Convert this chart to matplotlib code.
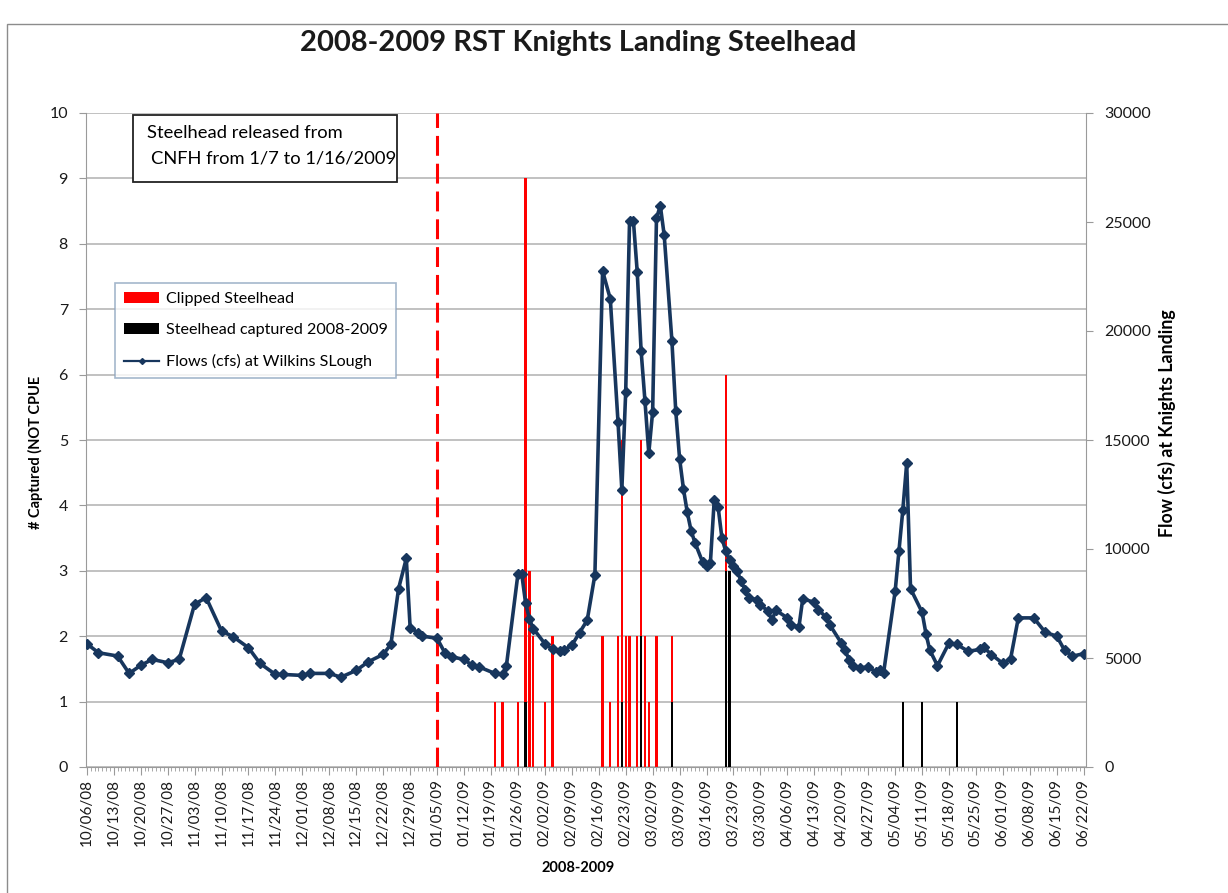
import numpy as np
import pandas as pd
import matplotlib
matplotlib.use("Agg")
import matplotlib.pyplot as plt
from matplotlib.patches import Rectangle, Patch
from matplotlib.lines import Line2D

plt.rcParams['font.family'] = ['Lato', 'DejaVu Sans']

# flows (cfs) at Wilkins Slough
flow_dates = ["10/06/08", "10/09/08", "10/14/08", "10/17/08", "10/20/08", "10/23/08", "10/27/08",
              "10/30/08", "11/03/08", "11/06/08", "11/10/08", "11/13/08", "11/17/08", "11/20/08",
              "11/24/08", "11/26/08", "12/01/08", "12/03/08", "12/08/08", "12/11/08", "12/15/08",
              "12/18/08", "12/22/08", "12/24/08", "12/26/08", "12/28/08", "12/29/08", "12/31/08",
              "01/01/09", "01/05/09", "01/07/09", "01/09/09", "01/12/09", "01/14/09", "01/16/09",
              "01/20/09", "01/22/09", "01/23/09", "01/26/09", "01/27/09", "01/28/09", "01/29/09",
              "01/30/09", "02/02/09", "02/04/09", "02/06/09", "02/07/09", "02/09/09", "02/11/09",
              "02/13/09", "02/15/09", "02/17/09", "02/19/09", "02/21/09", "02/22/09", "02/23/09",
              "02/24/09", "02/25/09", "02/26/09", "02/27/09", "02/28/09", "03/01/09", "03/02/09",
              "03/03/09", "03/04/09", "03/05/09", "03/07/09", "03/08/09", "03/09/09", "03/10/09",
              "03/11/09", "03/12/09", "03/13/09", "03/15/09", "03/16/09", "03/17/09", "03/18/09",
              "03/19/09", "03/20/09", "03/21/09", "03/22/09", "03/23/09", "03/24/09", "03/25/09",
              "03/26/09", "03/27/09", "03/29/09", "03/30/09", "04/01/09", "04/02/09", "04/03/09",
              "04/06/09", "04/07/09", "04/09/09", "04/10/09", "04/13/09", "04/14/09", "04/16/09",
              "04/17/09", "04/20/09", "04/21/09", "04/22/09", "04/23/09", "04/25/09", "04/27/09",
              "04/29/09", "04/30/09", "05/01/09", "05/04/09", "05/05/09", "05/06/09", "05/07/09",
              "05/08/09", "05/11/09", "05/12/09", "05/13/09", "05/15/09", "05/18/09", "05/20/09",
              "05/23/09", "05/26/09", "05/27/09", "05/29/09", "06/01/09", "06/03/09", "06/05/09",
              "06/09/09", "06/12/09", "06/15/09", "06/17/09", "06/19/09", "06/22/09"]
flow_cfs = [5657, 5243, 5090, 4293, 4660, 4936, 4783,
            4936, 7466, 7771, 6240, 5979, 5473, 4752,
            4246, 4246, 4200, 4293, 4293, 4120, 4430,
            4814, 5166, 5626, 8186, 9566, 6392, 6162,
            6009, 5902, 5243, 5044, 4936, 4676, 4584,
            4293, 4246, 4630, 8845, 8845, 7511, 6776,
            6346, 5657, 5397, 5320, 5366, 5580, 6162,
            6730, 8820, 22750, 21470, 15840, 12720, 17200,
            25050, 25050, 22700, 19100, 16800, 14400, 16300,
            25190, 25740, 24400, 19560, 16340, 14150, 12760,
            11680, 10830, 10290, 9390, 9200, 9360, 12250,
            11940, 10500, 9890, 9510, 9230, 8970, 8510,
            8130, 7750, 7680, 7450, 7140, 6730, 7190,
            6840, 6530, 6420, 7720, 7550, 7220, 6880,
            6530, 5690, 5360, 4930, 4650, 4550, 4590,
            4360, 4440, 4320, 8060, 9920, 11800, 13930,
            8180, 7100, 6120, 5360, 4650, 5690, 5620,
            5310, 5390, 5490, 5160, 4750, 4970, 6840,
            6840, 6180, 6000, 5360, 5080, 5200]

# clipped steelhead counts
clipped_dates = ["01/20/09", "01/22/09", "01/26/09", "01/28/09", "01/29/09", "01/30/09", "02/02/09",
                 "02/04/09", "02/17/09", "02/19/09", "02/21/09", "02/22/09", "02/23/09", "02/24/09",
                 "02/26/09", "02/27/09", "02/28/09", "03/01/09", "03/03/09", "03/07/09", "03/21/09"]
clipped_n = [1, 1, 1, 9, 3, 2, 1,
             2, 2, 1, 2, 5, 2, 2,
             2, 5, 2, 1, 2, 2, 6]

# all steelhead captured 2008-2009
captured_dates = ["01/28/09", "02/22/09", "02/27/09", "03/07/09", "03/21/09", "03/22/09",
                  "05/06/09", "05/11/09", "05/20/09"]
captured_n = [1, 1, 2, 1, 3, 3, 1, 1, 1]

release_line = "01/05/09"
first_day = "10/06/08"
last_day = "06/22/09"

W, H = 1228, 893


def fx(px):
    return px / W


def fy(py):
    return 1 - py / H


to_dt = lambda s: pd.to_datetime(s, format="%m/%d/%y")

fig = plt.figure(figsize=(W / 100, H / 100), dpi=100)
ax = fig.add_axes([fx(86), fy(767), (1086 - 86) / W, (767 - 113) / H])
ax2 = ax.twinx()

navy = "#17365d"
grey = "#9a9a9a"

ax.bar(to_dt(clipped_dates), clipped_n, width=0.6, color="#ff0000", zorder=2)
ax.bar(to_dt(captured_dates), captured_n, width=0.6, color="black", zorder=3)
ax.plot([to_dt(release_line)] * 2, [0, 10], color="#ff0000", lw=2.2,
        dashes=(6.5, 2.6), zorder=4)

ax2.plot(to_dt(flow_dates), flow_cfs, color=navy, lw=2.6, marker="D", ms=5.2,
         mfc=navy, mec=navy)

t0, t1 = to_dt(first_day), to_dt(last_day)
ax.set_xlim(t0 - pd.Timedelta(hours=5), t1 + pd.Timedelta(hours=14))
ax.set_ylim(0, 10)
ax2.set_ylim(0, 30000)

weeks = pd.date_range(t0, t1, freq="7D")
ax.set_xticks(weeks)
ax.set_xticklabels([d.strftime("%m/%d/%y") for d in weeks], rotation=90)
ax.set_xticks(pd.date_range(t0, t1, freq="D"), minor=True)
ax.set_yticks(range(0, 11))
ax2.set_yticks(range(0, 30001, 5000))

ax.set_axisbelow(True)
ax.yaxis.grid(True, color="#b0b0b0", lw=1.1)

for a in (ax, ax2):
    for s in a.spines.values():
        s.set_color(grey)
    a.spines["top"].set_visible(False)
ax.spines["right"].set_visible(False)
ax2.spines["left"].set_visible(False)
ax2.spines["bottom"].set_visible(False)

ax.tick_params(axis="x", which="major", length=6, color=grey, labelsize=11,
               labelcolor="#1a1a1a", pad=3)
ax.tick_params(axis="x", which="minor", length=3, color=grey)
ax.tick_params(axis="y", length=5, color=grey, labelsize=11.5, labelcolor="#1a1a1a", pad=8)
ax2.tick_params(axis="y", length=5, color=grey, labelsize=11.5, labelcolor="#1a1a1a", pad=8)

fig.text(fx(578), fy(43), "2008-2009 RST Knights Landing Steelhead", ha="center", va="center",
         fontsize=21, fontweight="bold", color="#1a1a1a")
fig.text(fx(35), fy(452), "# Captured (NOT CPUE", rotation=90, ha="center", va="center",
         fontsize=10.5, fontweight="bold")
fig.text(fx(1167), fy(423), "Flow (cfs) at Knights Landing", rotation=90, ha="center",
         va="center", fontsize=12.8, fontweight="bold")
fig.text(fx(578), fy(868), "2008-2009", ha="center", va="center", fontsize=10.5,
         fontweight="bold")

# note box
fig.patches.append(Rectangle((fx(133), fy(182)), (397 - 133) / W, (182 - 115) / H,
                             transform=fig.transFigure, facecolor="white",
                             edgecolor="#222222", lw=1.3, zorder=5))
fig.text(fx(147), fy(133), "Steelhead released from", ha="left", va="center",
         fontsize=13.2, zorder=6)
fig.text(fx(151), fy(158), "CNFH from 1/7 to 1/16/2009", ha="left", va="center",
         fontsize=13.2, zorder=6)

handles = [Patch(facecolor="#ff0000", edgecolor="none"),
           Patch(facecolor="black", edgecolor="none"),
           Line2D([], [], color=navy, lw=1.6, marker="D", ms=3)]
labels = ["Clipped Steelhead", "Steelhead captured 2008-2009", "Flows (cfs) at Wilkins SLough"]
leg = ax2.legend(handles, labels, loc="upper left", bbox_to_anchor=(fx(115), fy(283)),
                 bbox_transform=fig.transFigure, fontsize=11.6, frameon=True, fancybox=False,
                 borderpad=0.55, labelspacing=1.05, handlelength=2.2, handletextpad=0.4,
                 borderaxespad=0)
leg.get_frame().set_edgecolor("#8ea5bf")
leg.get_frame().set_linewidth(1.2)

# chart area border
fig.patches.append(Rectangle((fx(7), fy(H + 5)), 1.2, (H + 5 - 24) / H,
                             transform=fig.transFigure, facecolor="none",
                             edgecolor="#8c8c8c", lw=1.0))

fig.savefig("out.png", dpi=100)
